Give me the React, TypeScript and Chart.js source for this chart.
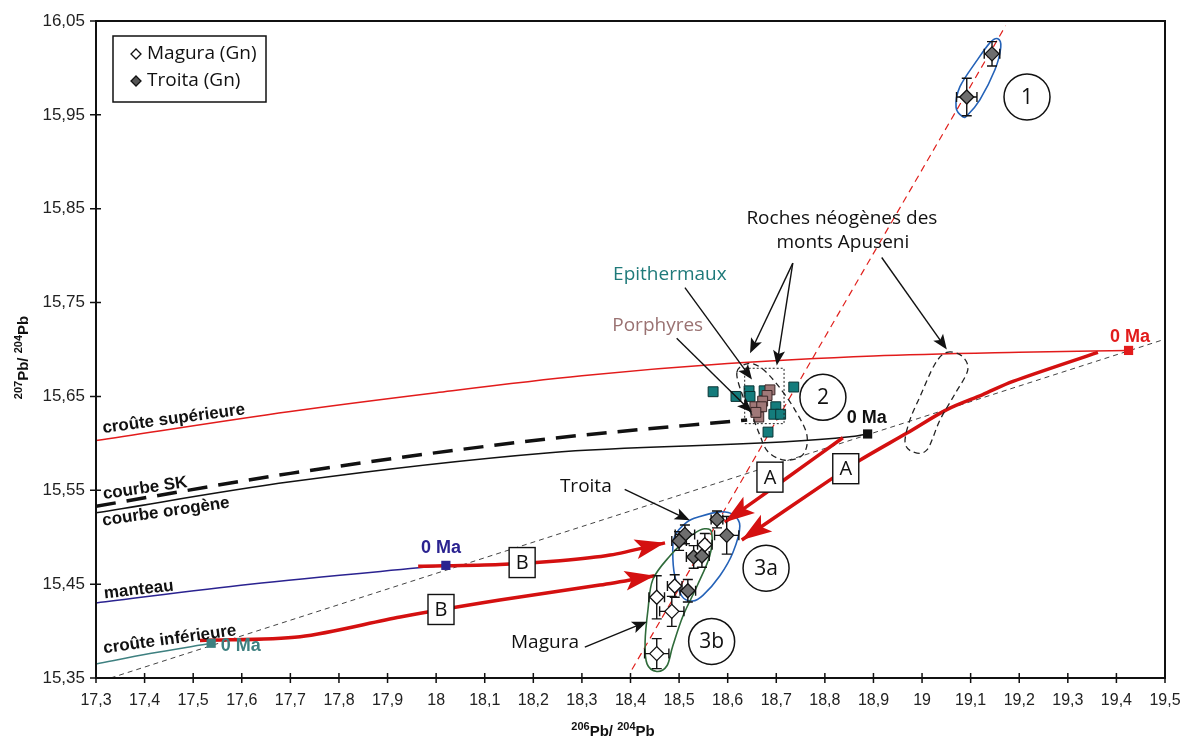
import React, { useEffect, useRef } from "react";
import { Chart, registerables } from "chart.js";
Chart.register(...registerables);

// ---------- axes ----------
const xTicks = [17.3, 17.4, 17.5, 17.6, 17.7, 17.8, 17.9, 18, 18.1, 18.2, 18.3, 18.4, 18.5, 18.6, 18.7, 18.8, 18.9, 19, 19.1, 19.2, 19.3, 19.4, 19.5];
const xTickLabels = ["17,3", "17,4", "17,5", "17,6", "17,7", "17,8", "17,9", "18", "18,1", "18,2", "18,3", "18,4", "18,5", "18,6", "18,7", "18,8", "18,9", "19", "19,1", "19,2", "19,3", "19,4", "19,5"];
const yTicks = [15.35, 15.45, 15.55, 15.65, 15.75, 15.85, 15.95, 16.05];
const yTickLabels = ["15,35", "15,45", "15,55", "15,65", "15,75", "15,85", "15,95", "16,05"];

// ---------- samples [x, y, errX, errY] ----------
const troita = [
  [19.092, 15.969, 0.021, 0.02],
  [19.144, 16.015, 0.016, 0.013],
  [18.578, 15.519, 0.012, 0.009],
  [18.598, 15.502, 0.025, 0.02],
  [18.512, 15.503, 0.02, 0.01],
  [18.5, 15.496, 0.015, 0.01],
  [18.53, 15.479, 0.015, 0.012],
  [18.547, 15.48, 0.015, 0.012],
  [18.518, 15.443, 0.016, 0.012],
];
const magura = [
  [18.553, 15.492, 0.015, 0.012],
  [18.491, 15.448, 0.015, 0.012],
  [18.454, 15.436, 0.016, 0.023],
  [18.485, 15.421, 0.025, 0.016],
  [18.454, 15.376, 0.025, 0.016],
];
const epithermaux = [
  [18.57, 15.655], [18.617, 15.65], [18.644, 15.656], [18.646, 15.65], [18.675, 15.656],
  [18.736, 15.66], [18.699, 15.639], [18.695, 15.631], [18.709, 15.631], [18.683, 15.612],
];
const porphyres = [
  [18.687, 15.657], [18.681, 15.651], [18.672, 15.645], [18.656, 15.639],
  [18.67, 15.639], [18.664, 15.628], [18.658, 15.633],
];

// ---------- growth curves ----------
const upperCrust = [
  [17.3, 15.603], [17.7, 15.634], [18.0, 15.654], [18.3, 15.672], [18.6, 15.685], [18.9, 15.693], [19.2, 15.697], [19.425, 15.699],
];
const skCurve = [[17.3, 15.533], [17.7, 15.568], [18.234, 15.605], [18.64, 15.625]];
const orogene = [[17.3, 15.526], [17.7, 15.559], [18.234, 15.59], [18.851, 15.607], [18.888, 15.61]];
const mantle = [[17.3, 15.43], [17.617, 15.45], [18.02, 15.47]];
const lowerCrust = [[17.3, 15.365], [17.411, 15.376], [17.537, 15.387]];
const zeroMa = [[19.425, 15.699], [18.888, 15.61], [18.02, 15.47], [17.537, 15.387]];
const zeroMaColors = ["#e21b1b", "#111111", "#2a2290", "#3e8080"];
const geochron = [[17.33, 15.35], [19.5, 15.711]];
const trendLine = [[18.403, 15.359], [19.172, 16.045]];

// ---------- evolution paths (thick red arrows) ----------
const pathA1 = [[18.837, 15.606], [18.716, 15.561], [18.594, 15.516]];
const pathA2 = [
  [19.362, 15.697], [19.187, 15.666], [19.125, 15.652], [19.051, 15.636], [18.969, 15.611],
  [18.872, 15.582], [18.816, 15.563], [18.629, 15.497],
];
const pathB1 = [[17.963, 15.469], [18.131, 15.471], [18.255, 15.475], [18.358, 15.481], [18.471, 15.494]];
const pathB2 = [[17.514, 15.39], [17.72, 15.394], [17.926, 15.415], [18.131, 15.433], [18.337, 15.449], [18.45, 15.459]];

// ---------- outlined fields ----------
const field1 = [
  [19.156, 16.031], [19.162, 16.022], [19.15, 15.998], [19.119, 15.966], [19.094, 15.95],
  [19.084, 15.948], [19.07, 15.958], [19.078, 15.98], [19.113, 16.008], [19.14, 16.027],
];
const field3a = [
  [18.611, 15.524], [18.625, 15.512], [18.611, 15.484], [18.584, 15.459], [18.549, 15.438],
  [18.528, 15.432], [18.506, 15.437], [18.491, 15.459], [18.487, 15.484], [18.491, 15.501],
  [18.516, 15.516], [18.543, 15.522], [18.584, 15.527],
];
const field3b = [
  [18.553, 15.509], [18.567, 15.505], [18.563, 15.48], [18.537, 15.448], [18.508, 15.416],
  [18.487, 15.384], [18.475, 15.363], [18.454, 15.357], [18.434, 15.365], [18.43, 15.388],
  [18.436, 15.423], [18.446, 15.455], [18.481, 15.48], [18.516, 15.498], [18.537, 15.506],
];
const neogeneLeft = [
  [18.619, 15.676], [18.642, 15.685], [18.67, 15.68], [18.703, 15.662], [18.738, 15.636],
  [18.763, 15.609], [18.755, 15.588], [18.718, 15.582], [18.683, 15.591], [18.666, 15.609],
  [18.65, 15.63], [18.63, 15.652],
];
const neogeneRight = [
  [19.051, 15.697], [19.082, 15.693], [19.094, 15.678], [19.067, 15.652], [19.037, 15.625],
  [19.01, 15.593], [18.981, 15.591], [18.965, 15.601], [18.975, 15.625], [18.996, 15.65], [19.026, 15.684],
];
const clusterBox = [[18.635, 15.68], [18.716, 15.621]];

// ---------- annotations ----------
const textLabels = [
  { t: "Roches néogènes des", x: 18.835, y: 15.84, size: 19, bold: false, color: "#111", fam: "Open Sans", rot: 0 },
  { t: "monts Apuseni", x: 18.837, y: 15.814, size: 19, bold: false, color: "#111", fam: "Open Sans", rot: 0 },
  { t: "Epithermaux", x: 18.481, y: 15.78, size: 19, bold: false, color: "#1f7a7a", fam: "Open Sans", rot: 0 },
  { t: "Porphyres", x: 18.456, y: 15.726, size: 19, bold: false, color: "#9a7272", fam: "Open Sans", rot: 0 },
  { t: "Troita", x: 18.308, y: 15.554, size: 19, bold: false, color: "#111", fam: "Open Sans", rot: 0 },
  { t: "Magura", x: 18.224, y: 15.388, size: 19, bold: false, color: "#111", fam: "Open Sans", rot: 0 },
  { t: "0 Ma", x: 19.428, y: 15.713, size: 18, bold: true, color: "#e21b1b", fam: "Liberation Sans", rot: 0 },
  { t: "0 Ma", x: 18.886, y: 15.627, size: 18, bold: true, color: "#111", fam: "Liberation Sans", rot: 0 },
  { t: "0 Ma", x: 18.01, y: 15.489, size: 18, bold: true, color: "#2a2290", fam: "Liberation Sans", rot: 0 },
  { t: "0 Ma", x: 17.598, y: 15.384, size: 18, bold: true, color: "#3e8080", fam: "Liberation Sans", rot: 0 },
  { t: "croûte supérieure", x: 17.46, y: 15.626, size: 17, bold: true, color: "#111", fam: "Liberation Sans", rot: -7.5 },
  { t: "courbe SK", x: 17.401, y: 15.552, size: 17, bold: true, color: "#111", fam: "Liberation Sans", rot: -8.2 },
  { t: "courbe orogène", x: 17.444, y: 15.527, size: 17, bold: true, color: "#111", fam: "Liberation Sans", rot: -8.2 },
  { t: "manteau", x: 17.388, y: 15.444, size: 17, bold: true, color: "#111", fam: "Liberation Sans", rot: -6.5 },
  { t: "croûte inférieure", x: 17.452, y: 15.391, size: 17, bold: true, color: "#111", fam: "Liberation Sans", rot: -7.7 },
];
const circleLabels = [
  { t: "1", x: 19.216, y: 15.969 },
  { t: "2", x: 18.796, y: 15.649 },
  { t: "3a", x: 18.679, y: 15.467 },
  { t: "3b", x: 18.567, y: 15.389 },
];
const boxLabels = [
  { t: "A", x: 18.687, y: 15.564 },
  { t: "A", x: 18.843, y: 15.573 },
  { t: "B", x: 18.177, y: 15.473 },
  { t: "B", x: 18.01, y: 15.423 },
];
const blackArrows = [
  [[18.512, 15.766], [18.65, 15.668]],
  [[18.495, 15.712], [18.65, 15.633]],
  [[18.734, 15.792], [18.646, 15.696]],
  [[18.734, 15.792], [18.701, 15.683]],
  [[18.917, 15.798], [19.051, 15.7]],
  [[18.388, 15.551], [18.522, 15.518]],
  [[18.306, 15.383], [18.434, 15.41]],
];

const pts = (a: number[][]) => a.map((p) => ({ x: p[0], y: p[1] }));

function closedCurve(ctx: CanvasRenderingContext2D, p: number[][]) {
  const n = p.length;
  ctx.beginPath();
  ctx.moveTo(p[0][0], p[0][1]);
  for (let i = 0; i < n; i++) {
    const p0 = p[(i - 1 + n) % n], p1 = p[i], p2 = p[(i + 1) % n], p3 = p[(i + 2) % n];
    ctx.bezierCurveTo(
      p1[0] + (p2[0] - p0[0]) / 6, p1[1] + (p2[1] - p0[1]) / 6,
      p2[0] - (p3[0] - p1[0]) / 6, p2[1] - (p3[1] - p1[1]) / 6,
      p2[0], p2[1]
    );
  }
  ctx.closePath();
}

function arrowHead(ctx: CanvasRenderingContext2D, tx: number, ty: number, fx: number, fy: number, len: number, hw: number, color: string) {
  const a = Math.atan2(ty - fy, tx - fx);
  ctx.save();
  ctx.translate(tx, ty);
  ctx.rotate(a);
  ctx.beginPath();
  ctx.moveTo(0, 0);
  ctx.lineTo(-len, -hw);
  ctx.lineTo(-len * 0.78, 0);
  ctx.lineTo(-len, hw);
  ctx.closePath();
  ctx.fillStyle = color;
  ctx.fill();
  ctx.restore();
}

function drawRich(ctx: CanvasRenderingContext2D, segs: { t: string; sup?: boolean }[], cx: number, cy: number) {
  const big = "bold 15px 'Liberation Sans'";
  const small = "bold 11px 'Liberation Sans'";
  let w = 0;
  segs.forEach((s) => { ctx.font = s.sup ? small : big; w += ctx.measureText(s.t).width; });
  let x = cx - w / 2;
  ctx.textBaseline = "alphabetic";
  ctx.textAlign = "left";
  segs.forEach((s) => {
    ctx.font = s.sup ? small : big;
    ctx.fillText(s.t, x, s.sup ? cy - 6 : cy);
    x += ctx.measureText(s.t).width;
  });
}

const overlay = {
  id: "overlay",
  beforeDatasetDraw(chart: any, args: any) {
    if (args.index !== 1) return;
    const { ctx, scales } = chart;
    const X = (v: number) => scales.x.getPixelForValue(v);
    const Y = (v: number) => scales.y.getPixelForValue(v);
    const toPx = (a: number[][]) => a.map((p) => [X(p[0]), Y(p[1])]);
    ctx.save();
    ctx.setLineDash([6, 4]);
    ctx.strokeStyle = "#222";
    ctx.lineWidth = 1.3;
    closedCurve(ctx, toPx(neogeneLeft)); ctx.stroke();
    closedCurve(ctx, toPx(neogeneRight)); ctx.stroke();
    ctx.setLineDash([2, 2]);
    ctx.lineWidth = 1;
    const bx1 = X(clusterBox[0][0]), by1 = Y(clusterBox[0][1]), bx2 = X(clusterBox[1][0]), by2 = Y(clusterBox[1][1]);
    ctx.strokeRect(bx1, by1, bx2 - bx1, by2 - by1);
    ctx.setLineDash([]);
    ctx.lineWidth = 1.6;
    ctx.strokeStyle = "#2462b8";
    closedCurve(ctx, toPx(field1)); ctx.stroke();
    closedCurve(ctx, toPx(field3a)); ctx.stroke();
    ctx.strokeStyle = "#2f6b3a";
    closedCurve(ctx, toPx(field3b)); ctx.stroke();
    ctx.strokeStyle = "#111";
    ctx.lineWidth = 1.4;
    [...troita, ...magura].forEach((p) => {
      const x = X(p[0]), y = Y(p[1]);
      const x1 = X(p[0] - p[2]), x2 = X(p[0] + p[2]);
      const y1 = Y(p[1] + p[3]), y2 = Y(p[1] - p[3]);
      ctx.beginPath();
      ctx.moveTo(x1, y); ctx.lineTo(x2, y);
      ctx.moveTo(x1, y - 5); ctx.lineTo(x1, y + 5);
      ctx.moveTo(x2, y - 5); ctx.lineTo(x2, y + 5);
      ctx.moveTo(x, y1); ctx.lineTo(x, y2);
      ctx.moveTo(x - 5, y1); ctx.lineTo(x + 5, y1);
      ctx.moveTo(x - 5, y2); ctx.lineTo(x + 5, y2);
      ctx.stroke();
    });
    ctx.restore();
  },
  afterDatasetsDraw(chart: any) {
    const { ctx, scales, chartArea: ca } = chart;
    const X = (v: number) => scales.x.getPixelForValue(v);
    const Y = (v: number) => scales.y.getPixelForValue(v);
    ctx.save();
    [pathA1, pathA2, pathB1, pathB2].forEach((p) => {
      const a = p[p.length - 1], b = p[p.length - 2];
      arrowHead(ctx, X(a[0]), Y(a[1]), X(b[0]), Y(b[1]), 30, 10, "#d41010");
    });
    ctx.strokeStyle = "#111";
    ctx.lineWidth = 1.4;
    blackArrows.forEach(([f, t]) => {
      const fx = X(f[0]), fy = Y(f[1]), tx = X(t[0]), ty = Y(t[1]);
      const d = Math.hypot(tx - fx, ty - fy);
      const ex = tx - ((tx - fx) / d) * 10, ey = ty - ((ty - fy) / d) * 10;
      ctx.beginPath(); ctx.moveTo(fx, fy); ctx.lineTo(ex, ey); ctx.stroke();
      arrowHead(ctx, tx, ty, fx, fy, 15, 6, "#111");
    });
    circleLabels.forEach((c) => {
      const x = X(c.x), y = Y(c.y);
      ctx.beginPath(); ctx.arc(x, y, 23, 0, Math.PI * 2);
      ctx.fillStyle = "#fff"; ctx.fill();
      ctx.lineWidth = 1.5; ctx.strokeStyle = "#111"; ctx.stroke();
      ctx.fillStyle = "#111"; ctx.font = "21px 'Open Sans'";
      ctx.textAlign = "center"; ctx.textBaseline = "middle";
      ctx.fillText(c.t, x, y + 1);
    });
    boxLabels.forEach((b) => {
      const x = X(b.x), y = Y(b.y);
      ctx.fillStyle = "#fff"; ctx.fillRect(x - 13, y - 15, 26, 30);
      ctx.lineWidth = 1.4; ctx.strokeStyle = "#111"; ctx.strokeRect(x - 13, y - 15, 26, 30);
      ctx.fillStyle = "#111"; ctx.font = "20px 'Open Sans'";
      ctx.textAlign = "center"; ctx.textBaseline = "middle";
      ctx.fillText(b.t, x, y + 1);
    });
    textLabels.forEach((l) => {
      ctx.save();
      ctx.translate(X(l.x), Y(l.y));
      ctx.rotate((l.rot * Math.PI) / 180);
      ctx.font = `${l.bold ? "bold " : ""}${l.size}px '${l.fam}'`;
      ctx.fillStyle = l.color;
      ctx.textAlign = "center"; ctx.textBaseline = "middle";
      ctx.fillText(l.t, 0, 0);
      ctx.restore();
    });
    // legend
    const lx = ca.left + 17, ly = ca.top + 15;
    ctx.fillStyle = "#fff"; ctx.fillRect(lx, ly, 153, 66);
    ctx.lineWidth = 1.5; ctx.strokeStyle = "#111"; ctx.strokeRect(lx, ly, 153, 66);
    [["Magura (Gn)", "#fff"], ["Troita (Gn)", "#555"]].forEach(([t, col], i) => {
      const y = ly + 18 + i * 27;
      const x = lx + 23;
      ctx.beginPath();
      ctx.moveTo(x, y - 5); ctx.lineTo(x + 5, y); ctx.lineTo(x, y + 5); ctx.lineTo(x - 5, y); ctx.closePath();
      ctx.fillStyle = col; ctx.fill(); ctx.lineWidth = 1.3; ctx.strokeStyle = "#111"; ctx.stroke();
      ctx.fillStyle = "#111"; ctx.font = "19px 'Open Sans'";
      ctx.textAlign = "left"; ctx.textBaseline = "middle";
      ctx.fillText(t, x + 11, y);
    });
    // frame and ticks
    ctx.strokeStyle = "#111";
    ctx.lineWidth = 2;
    ctx.strokeRect(ca.left, ca.top, ca.right - ca.left, ca.bottom - ca.top);
    ctx.lineWidth = 1.5;
    ctx.beginPath();
    xTicks.forEach((v) => { const x = X(v); ctx.moveTo(x, ca.bottom - 5); ctx.lineTo(x, ca.bottom + 5); });
    yTicks.forEach((v) => { const y = Y(v); ctx.moveTo(ca.left - 6, y); ctx.lineTo(ca.left + 5, y); });
    ctx.stroke();
    ctx.fillStyle = "#111";
    drawRich(ctx, [{ t: "206", sup: true }, { t: "Pb/ " }, { t: "204", sup: true }, { t: "Pb" }], 613, 736);
    ctx.save();
    ctx.translate(28, (ca.top + ca.bottom) / 2 + 8);
    ctx.rotate(-Math.PI / 2);
    drawRich(ctx, [{ t: "207", sup: true }, { t: "Pb/ " }, { t: "204", sup: true }, { t: "Pb" }], 0, 0);
    ctx.restore();
    ctx.restore();
  },
};

export default function App() {
  const ref = useRef<HTMLCanvasElement>(null);
  useEffect(() => {
    if (!ref.current) return;
    const line = (data: number[][], color: string, width: number, extra: any = {}) => ({
      type: "line",
      data: pts(data),
      showLine: true,
      borderColor: color,
      borderWidth: width,
      pointRadius: 0,
      fill: false,
      tension: 0.3,
      ...extra,
    });
    const chart = new Chart(ref.current, {
      type: "scatter",
      data: {
        datasets: [
          { label: "Troita (Gn)", data: pts(troita), pointStyle: "rectRot", pointRadius: 7, backgroundColor: "#6e6e6e", borderColor: "#111", borderWidth: 1.3 },
          { label: "Magura (Gn)", data: pts(magura), pointStyle: "rectRot", pointRadius: 7, backgroundColor: "#fff", borderColor: "#111", borderWidth: 1.3 },
          { label: "Porphyres", data: pts(porphyres), pointStyle: "rect", pointRadius: 7, backgroundColor: "#a07878", borderColor: "#3a2626", borderWidth: 1 },
          { label: "Epithermaux", data: pts(epithermaux), pointStyle: "rect", pointRadius: 7, backgroundColor: "#147c7c", borderColor: "#0a3333", borderWidth: 1 },
          { label: "0 Ma", data: pts(zeroMa), pointStyle: "rect", pointRadius: 6.5, backgroundColor: zeroMaColors, borderColor: zeroMaColors, borderWidth: 0 },
          line(pathA1, "#d41010", 3.5),
          line(pathA2, "#d41010", 3.5),
          line(pathB1, "#d41010", 3.5),
          line(pathB2, "#d41010", 3.5),
          line(skCurve, "#111", 3.5, { borderDash: [20, 11], cubicInterpolationMode: "monotone" }),
          line(orogene, "#111", 1.5, { cubicInterpolationMode: "monotone" }),
          line(upperCrust, "#e21b1b", 1.5, { cubicInterpolationMode: "monotone" }),
          line(mantle, "#2a2290", 1.5, { cubicInterpolationMode: "monotone" }),
          line(lowerCrust, "#3e8080", 1.5, { cubicInterpolationMode: "monotone" }),
          line(geochron, "#444", 1, { borderDash: [5, 4], tension: 0 }),
          line(trendLine, "#e0201c", 1.2, { borderDash: [7, 5], tension: 0 }),
        ],
      },
      options: {
        responsive: false,
        animation: false,
        layout: { padding: { left: 0, top: 21, right: 16, bottom: 0 } },
        plugins: { legend: { display: false }, tooltip: { enabled: false } },
        scales: {
          x: {
            type: "linear",
            min: 17.3,
            max: 19.5,
            afterBuildTicks: (s: any) => { s.ticks = xTicks.map((v) => ({ value: v })); },
            afterFit: (s: any) => { s.height = 62; s.paddingLeft = 0; s.paddingRight = 0; },
            ticks: {
              callback: (_v: any, i: number) => xTickLabels[i],
              font: { family: "'Liberation Sans'", size: 16 },
              color: "#222",
              padding: 13,
              maxRotation: 0,
              autoSkip: false,
            },
            grid: { display: false, drawTicks: false },
            border: { display: false },
          },
          y: {
            type: "linear",
            min: 15.35,
            max: 16.05,
            afterBuildTicks: (s: any) => { s.ticks = yTicks.map((v) => ({ value: v })); },
            afterFit: (s: any) => { s.width = 96; s.paddingTop = 0; s.paddingBottom = 0; },
            ticks: {
              callback: (_v: any, i: number) => yTickLabels[i],
              font: { family: "'Liberation Sans'", size: 17 },
              color: "#222",
              padding: 11,
              autoSkip: false,
            },
            grid: { display: false, drawTicks: false },
            border: { display: false },
          },
        },
      },
      plugins: [overlay],
    } as any);
    return () => chart.destroy();
  }, []);
  return (
    <div style={{ position: "absolute", left: 0, top: 0, width: 1181, height: 740, background: "#fff" }}>
      <canvas ref={ref} width={1181} height={740} style={{ display: "block" }} />
    </div>
  );
}
